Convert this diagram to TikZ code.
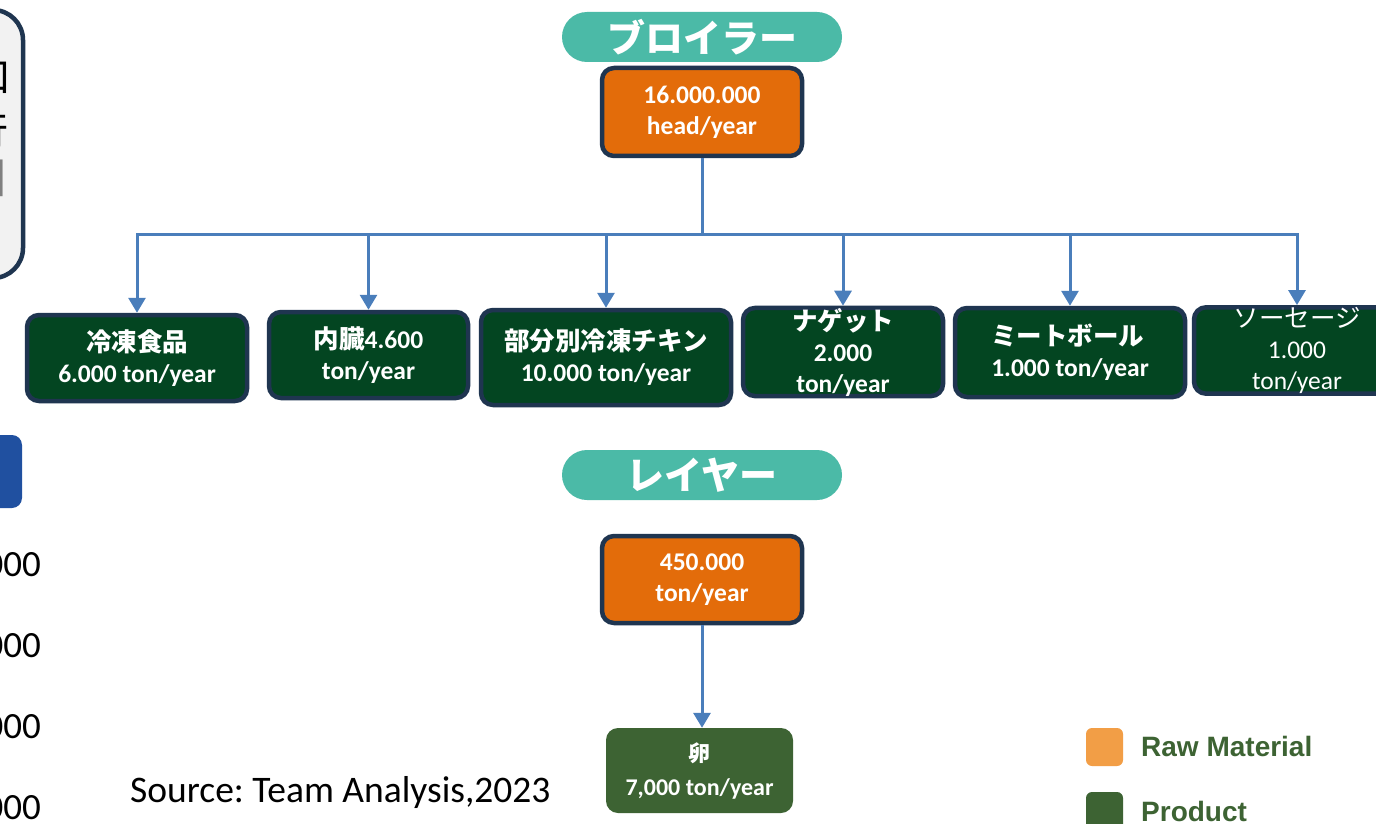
\documentclass[tikz,border=0pt]{standalone}
\usepackage{fontspec}
\setmainfont{Carlito}
\newfontfamily\jp{Noto Sans CJK JP}
\newfontfamily\arialf{Liberation Sans}
\usetikzlibrary{arrows.meta}
\definecolor{navy}{HTML}{1F3550}
\definecolor{tealpill}{HTML}{4BBAA7}
\definecolor{rawor}{HTML}{E36C0A}
\definecolor{prodgreen}{HTML}{034521}
\definecolor{egggreen}{HTML}{3D6333}
\definecolor{legor}{HTML}{F29E46}
\definecolor{connblue}{HTML}{4A7EBB}
\definecolor{leftblue}{HTML}{2050A0}
\definecolor{lightgray}{HTML}{F2F2F2}
\frenchspacing
\begin{document}
\begin{tikzpicture}[x=1pt,y=-1pt,
  box/.style={draw=navy, line width=4.5pt, rounded corners=12pt, align=center, text=white,
    font=\bfseries\fontsize{25.5}{31}\selectfont, inner sep=0pt},
  rawbox/.style={box, fill=rawor},
  prodbox/.style={box, fill=prodgreen},
  pill/.style={fill=tealpill, rounded corners=25pt, minimum width=280pt, minimum height=50pt,
    text=white, inner sep=0pt, font=\jp\bfseries\fontsize{38}{40}\selectfont},
  conn/.style={draw=connblue, line width=3pt},
  arr/.style={conn, -{Triangle[width=17pt,length=15pt]}},
  legsq/.style={rounded corners=6pt, minimum width=37pt, minimum height=38pt, inner sep=0pt},
  legtxt/.style={anchor=west, inner sep=0pt, text=egggreen, font=\arialf\bfseries\fontsize{28}{30}\selectfont},
  sidenum/.style={anchor=east, inner sep=0pt, font=\fontsize{37}{37}\selectfont}
]
\useasboundingbox (0,0) rectangle (1376,824);
\clip (0,0) rectangle (1376,824);
\fill[white] (0,0) rectangle (1376,824);

% partial elements at the left edge
\draw[draw=navy, line width=4.5pt, fill=lightgray, rounded corners=30pt] (-300,10) rectangle (23,278);
\node[anchor=east, inner sep=0pt, font=\jp\fontsize{40}{40}\selectfont] (g1) at (12,78) {口};
\node[anchor=east, inner sep=0pt, font=\jp\fontsize{40}{40}\selectfont] (g2) at (9,131) {行};
\node[anchor=east, inner sep=0pt, text=gray, font=\jp\fontsize{40}{40}\selectfont] (g3) at (22,178) {丨};
\fill[leftblue, rounded corners=10pt] (-50,435) rectangle (22,508);
\node[sidenum] (n1) at (41,565) {000};
\node[sidenum] (n2) at (41,646) {000};
\node[sidenum] (n3) at (41,727) {000};
\node[sidenum] (n4) at (41,808) {000};

% broiler
\node[pill] (pb) at (702,37) {ブロイラー};
\node[rawbox, minimum width=200pt, minimum height=88pt] (rb) at (702,112) {16.000.000\\head/year};

\node[prodbox, minimum width=220pt, minimum height=86pt] (p1) at (137,358) {{\jp 冷凍食品}\\6.000 ton/year};
\node[prodbox, minimum width=199pt, minimum height=86pt] (p2) at (368.5,355) {{\jp 内臓}4.600\\ton/year};
\node[prodbox, minimum width=250pt, minimum height=95pt] (p3) at (606,357.5) {{\jp 部分別冷凍チキン}\\10.000 ton/year};
\node[prodbox, minimum width=200pt, minimum height=88pt] (p4) at (843,352) {{\jp ナゲット}\\2.000\\ton/year};
\node[prodbox, minimum width=230pt, minimum height=89pt, align=left] (p5) at (1070,352.5) {{\jp ミートボール}\\1.000 ton/year};
\node[prodbox, minimum width=206pt, minimum height=86pt, font=\mdseries\fontsize{25.5}{31}\selectfont] (p6) at (1297,350.5) {{\jp ソーセージ}\\1.000\\ton/year};

\foreach \c in {p1,p2,p3,p4,p5,p6}{
  \draw[arr] (rb.south) -- ++(0,76) -| (\c.north);
}

% layer
\node[pill] (pl) at (702,475) {レイヤー};
\node[rawbox, minimum width=200pt, minimum height=87pt] (rl) at (702,579.5) {450.000\\ton/year};
\node[fill=egggreen, rounded corners=12pt, minimum width=187pt, minimum height=85pt, inner sep=0pt,
  text=white, align=center, font=\bfseries\fontsize{24}{34}\selectfont] (egg) at (699.5,770.5)
  {{\jp\fontsize{22}{34}\selectfont 卵}\\7,000 ton/year};
\draw[arr] (rl.south) -- (rl.south |- egg.north);

% source
\node[anchor=west, inner sep=0pt, font=\fontsize{37.5}{40}\selectfont] (src) at (130,792) {Source: Team Analysis,2023};

% legend
\node[legsq, fill=legor] (lraw) at (1104.5,747) {};
\node[legtxt] (lrawt) at (1141,746) {Raw Material};
\node[legsq, fill=egggreen] (lprod) at (1104.5,811) {};
\node[legtxt] (lprodt) at (1141,811) {Product};
\end{tikzpicture}
\end{document}
